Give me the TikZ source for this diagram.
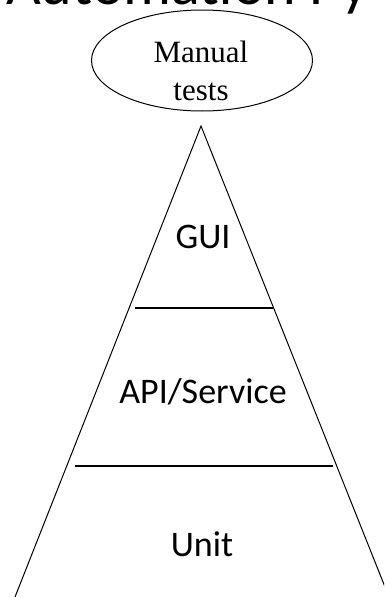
\documentclass[tikz,border=0pt]{standalone}
\usepackage{fontspec}
\setmainfont{Liberation Serif}
\newfontfamily\calibrifont{Carlito}
\usetikzlibrary{shapes.geometric}
\tikzset{
  titletext/.style = {font=\calibrifont\fontsize{60}{72}\selectfont,
    anchor=base west, inner sep=0pt},% title, cut at the top
  layertext/.style = {font=\calibrifont\fontsize{36}{43}\selectfont,
    anchor=base, inner sep=0pt},% label of a pyramid layer
  manualoval/.style = {ellipse, draw=black, line width=1pt,
    minimum width=221pt, minimum height=101pt, inner sep=0pt},
  manualtext/.style = {font=\fontsize{31}{38}\selectfont, align=center,
    inner sep=0pt},
  pyrside/.style = {draw=black, line width=1pt},% sides of the pyramid
  layerline/.style = {draw=black, line width=2pt}% layer borders
}

\begin{document}
\begin{tikzpicture}[x=1pt,y=-1pt]
\useasboundingbox (0,0) rectangle (384,597);
\clip (0,0) rectangle (384,597);

\node [titletext] (title) at (6,5) {Automation Py};

\node [manualoval] (manual) at (202,60.5) {};
\node [manualtext] (manualtext) at (201,71) {Manual\\tests};

\coordinate (apex) at (201,126);
\coordinate (baseL) at (15,597);
\coordinate (baseR) at (389,597);
\draw [pyrside] (baseL) -- (apex) -- (baseR);

\coordinate (guiL) at (135,308);
\coordinate (guiR) at (273,308);
\coordinate (apiL) at (75,466);
\coordinate (apiR) at (333,466);
\draw [layerline] (guiL) -- (guiR);
\draw [layerline] (apiL) -- (apiR);

\node [layertext] (gui) at (203,248) {GUI};
\node [layertext] (api) at (203,403) {API/Service};
\node [layertext] (unit) at (202,556) {Unit};
\end{tikzpicture}
\end{document}
